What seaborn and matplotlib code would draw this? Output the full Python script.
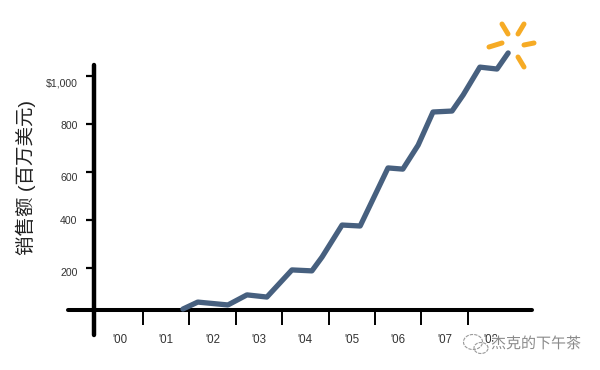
import matplotlib
matplotlib.use("Agg")
import matplotlib.pyplot as plt
import matplotlib.patheffects as pe
from matplotlib.patches import Arc
from matplotlib.transforms import ScaledTranslation
import pandas as pd
import seaborn as sns

years = [2001.86, 2002.18, 2002.83, 2003.24, 2003.67, 2004.21, 2004.64, 2004.86, 2005.29,
         2005.68, 2006.28, 2006.60, 2006.93, 2007.25, 2007.66, 2007.90, 2008.26, 2008.63, 2008.87]
sales = [29, 58, 46, 88, 79, 192, 188, 246, 379, 375, 617, 612, 712, 850, 854, 921, 1037, 1029, 1096]
y_ticks = [200, 400, 600, 800, 1000]
y_labels = ["200", "400", "600", "800", "$1,000"]
y_label_drop_px = [4, 0, 5, 1, 6]
x_ticks = [2001, 2002, 2003, 2004, 2005, 2006, 2007, 2008]
x_label_pos = [2000.5, 2001.5, 2002.5, 2003.5, 2004.5, 2005.5, 2006.5, 2007.5, 2008.5]
x_labels = ["'00", "'01", "'02", "'03", "'04", "'05", "'06", "'07", "'08"]

sns.set_style("white")
plt.rcParams["font.family"] = ["Liberation Sans", "Noto Sans CJK SC", "DejaVu Sans"]

W, H = 600, 370
fig = plt.figure(figsize=(W / 100, H / 100), dpi=100)
ax = fig.add_axes([0, 0, 1, 1])
ax.patch.set_alpha(0)

# full-figure axes: scale chosen so that the drawing sits where the reference has it
ax.set_xlim(2000 - 96.6 / 46.4, 2000 + (W - 96.6) / 46.4)
ax.set_ylim((316 - H) / 0.24, 316 / 0.24)

df = pd.DataFrame({"year": years, "sales": sales})
sns.lineplot(data=df, x="year", y="sales", ax=ax, color="#47607f", linewidth=3.8,
             solid_joinstyle="round", solid_capstyle="round", errorbar=None, zorder=3)
ax.set_xlabel("")
ax.set_ylabel("")

for s in ["top", "right"]:
    ax.spines[s].set_visible(False)
ax.spines["left"].set_position(("data", 1999.945))
ax.spines["left"].set_bounds(-79, 1046)
ax.spines["left"].set_linewidth(3.2)
ax.spines["left"].set_color("#000000")
ax.spines["left"].set_capstyle("round")
ax.spines["bottom"].set_position(("data", 25))
ax.spines["bottom"].set_bounds(1999.38, 2009.39)
ax.spines["bottom"].set_linewidth(2.9)
ax.spines["bottom"].set_color("#000000")
ax.spines["bottom"].set_capstyle("round")

ax.set_yticks(y_ticks, y_labels)
ax.tick_params(axis="y", which="major", left=True, length=6, width=1.6, color="#000000",
               pad=6, labelsize=7.6, labelcolor="#333333")
ax.set_xticks(x_ticks, [""] * len(x_ticks))
ax.tick_params(axis="x", which="major", bottom=True, length=10.5, width=1.4, color="#000000")
ax.set_xticks(x_label_pos, x_labels, minor=True)
ax.tick_params(axis="x", which="minor", bottom=False, length=0, pad=17.5,
               labelsize=8.3, labelcolor="#333333")
ax.grid(False)

# the hand-lettered y labels do not sit quite level with their ticks
for tick, drop in zip(ax.yaxis.get_major_ticks(), y_label_drop_px):
    tick.label1.set_transform(tick.label1.get_transform()
                              + ScaledTranslation(0, -drop / 100, fig.dpi_scale_trans))

fig.text(26 / W, 1 - 177.5 / H, "销售额 (百万美元)", rotation=90, fontsize=14, color="#222222",
         ha="center", va="center", family=["Liberation Sans", "Noto Sans CJK SC", "DejaVu Sans"])


def px(x, y):
    return x / W, 1 - y / H


# orange sparks
sparks = [((502, 24), (508, 34)), ((524, 24), (518, 34)), ((489, 47), (502, 43)),
          ((524, 45), (534, 43)), ((518, 57), (524, 67))]
for a, b in sparks:
    xa, ya = px(*a)
    xb, yb = px(*b)
    fig.add_artist(plt.Line2D([xa, xb], [ya, yb], transform=fig.transFigure, color="#f6ab25",
                              linewidth=3.6, solid_capstyle="round"))

# watermark
for cx, cy, w, h in [(473, 342, 19, 15), (481, 348, 14, 11)]:
    xc, yc = px(cx, cy)
    fig.add_artist(Arc((xc, yc), w / W, h / H, transform=fig.transFigure, color="#9a9a9a",
                       linewidth=0.8, linestyle=(0, (3, 1))))
tx, ty = px(491, 344)
fig.text(tx, ty, "杰克的下午茶", fontsize=10.8, color="#8a8a8a", ha="left", va="center",
         family=["Noto Sans CJK SC", "DejaVu Sans"],
         path_effects=[pe.withStroke(linewidth=1.5, foreground="white")], zorder=10)

fig.savefig("out.png", dpi=100, facecolor="white")
